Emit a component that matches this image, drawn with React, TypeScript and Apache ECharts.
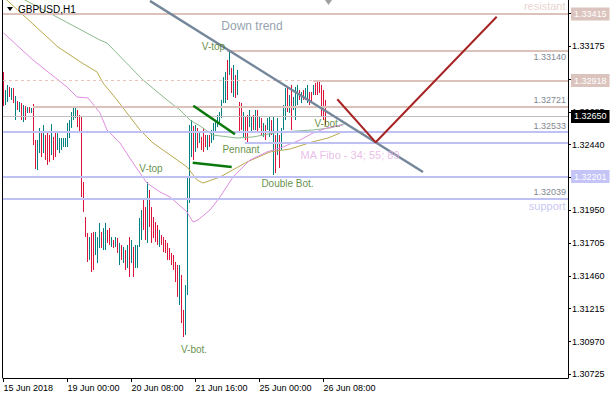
import React, { useEffect, useRef } from 'react';
import * as echarts from 'echarts';

// ---------- data ----------
const barHigh = [
  1.32982, 1.32847, 1.32885, 1.32870, 1.32862, 1.32862, 1.32803, 1.32765, 1.32758, 1.32750,
  1.32735, 1.32728, 1.32720, 1.32720, 1.32713, 1.32743, 1.32474, 1.32474, 1.32564, 1.32526,
  1.32586, 1.32511, 1.32526, 1.32511, 1.32593, 1.32497, 1.32534, 1.32526, 1.32489, 1.32489,
  1.32489, 1.32489, 1.32601, 1.32623, 1.32683, 1.32720, 1.32713, 1.32698, 1.32661, 1.32646,
  1.32161, 1.31899, 1.31780, 1.31750, 1.31780, 1.31788, 1.31788, 1.31750, 1.31855, 1.31788,
  1.31817, 1.31855, 1.31803, 1.31817, 1.31750, 1.31728, 1.31750, 1.31743, 1.31706, 1.31691,
  1.31676, 1.31653, 1.31691, 1.31750, 1.31728, 1.31676, 1.31691, 1.31691, 1.31892, 1.31952,
  1.32026, 1.31974, 1.32161, 1.32101, 1.31974, 1.31899, 1.31862, 1.31840, 1.31803, 1.31765,
  1.31750, 1.31728, 1.31706, 1.31668, 1.31631, 1.31616, 1.31564, 1.31541, 1.31541, 1.31467,
  1.31206, 1.31392, 1.32198, 1.32586, 1.32623, 1.32579, 1.32586, 1.32564, 1.32534, 1.32497,
  1.32564, 1.32511, 1.32511, 1.32511, 1.32549, 1.32601, 1.32608, 1.32661, 1.32683, 1.32773,
  1.32944, 1.32982, 1.33071, 1.33131, 1.33012, 1.33034, 1.32959, 1.32997, 1.32758, 1.32750,
  1.32683, 1.32646, 1.32661, 1.32698, 1.32646, 1.32661, 1.32698, 1.32698, 1.32646, 1.32638,
  1.32601, 1.32586, 1.32638, 1.32646, 1.32623, 1.32646, 1.32511, 1.32638, 1.32511, 1.32564,
  1.32735, 1.32862, 1.32870, 1.32810, 1.32885, 1.32795, 1.32870, 1.32885, 1.32847, 1.32832,
  1.32847, 1.32862, 1.32885, 1.32832, 1.32832, 1.32885, 1.32900, 1.32907, 1.32907, 1.32885,
  1.32847, 1.32773,
];
const barLow = [
  1.32728, 1.32735, 1.32758, 1.32795, 1.32773, 1.32750, 1.32623, 1.32698, 1.32683, 1.32623,
  1.32608, 1.32623, 1.32676, 1.32676, 1.32676, 1.32437, 1.32258, 1.32250, 1.32377, 1.32347,
  1.32377, 1.32325, 1.32288, 1.32310, 1.32362, 1.32325, 1.32347, 1.32400, 1.32377, 1.32400,
  1.32422, 1.32422, 1.32422, 1.32489, 1.32564, 1.32623, 1.32638, 1.32571, 1.32526, 1.32049,
  1.31937, 1.31750, 1.31564, 1.31579, 1.31489, 1.31504, 1.31616, 1.31556, 1.31668, 1.31668,
  1.31653, 1.31653, 1.31706, 1.31691, 1.31676, 1.31668, 1.31676, 1.31631, 1.31541, 1.31579,
  1.31556, 1.31504, 1.31519, 1.31452, 1.31556, 1.31452, 1.31519, 1.31519, 1.31676, 1.31728,
  1.31803, 1.31728, 1.31706, 1.31825, 1.31706, 1.31743, 1.31713, 1.31691, 1.31676, 1.31691,
  1.31638, 1.31631, 1.31579, 1.31579, 1.31541, 1.31504, 1.31414, 1.31303, 1.31243, 1.31108,
  1.31004, 1.31019, 1.31317, 1.32004, 1.32347, 1.32325, 1.32385, 1.32414, 1.32452, 1.32400,
  1.32385, 1.32422, 1.32400, 1.32422, 1.32452, 1.32474, 1.32534, 1.32571, 1.32601, 1.32638,
  1.32750, 1.32750, 1.32773, 1.32959, 1.32825, 1.32795, 1.32788, 1.32810, 1.32534, 1.32549,
  1.32497, 1.32474, 1.32459, 1.32571, 1.32526, 1.32549, 1.32549, 1.32534, 1.32564, 1.32511,
  1.32497, 1.32474, 1.32549, 1.32497, 1.32511, 1.32213, 1.32228, 1.32362, 1.32265, 1.32400,
  1.32549, 1.32623, 1.32683, 1.32676, 1.32549, 1.32698, 1.32623, 1.32735, 1.32773, 1.32750,
  1.32773, 1.32773, 1.32750, 1.32735, 1.32750, 1.32810, 1.32810, 1.32810, 1.32825, 1.32646,
  1.32623, 1.32586,
];
// 1 = bullish bar, 0 = bearish bar
const barUp = [
  0, 1, 1, 0, 1, 0, 1, 0, 1, 0,
  1, 0, 1, 0, 1, 0, 0, 1, 1, 0,
  1, 0, 0, 0, 1, 0, 0, 1, 1, 1,
  1, 1, 1, 1, 1, 1, 1, 0, 0, 0,
  0, 0, 0, 1, 0, 0, 1, 1, 1, 0,
  1, 1, 0, 0, 1, 0, 1, 0, 1, 0,
  1, 0, 1, 0, 1, 0, 1, 1, 1, 1,
  0, 0, 1, 0, 0, 0, 0, 0, 1, 0,
  0, 0, 0, 0, 0, 0, 0, 0, 1, 0,
  0, 1, 1, 1, 1, 0, 1, 0, 1, 0,
  0, 0, 1, 0, 1, 1, 1, 1, 1, 1,
  1, 1, 0, 1, 0, 1, 0, 1, 0, 0,
  1, 0, 0, 1, 1, 0, 1, 0, 1, 0,
  1, 0, 1, 1, 0, 1, 0, 1, 0, 1,
  1, 1, 0, 1, 0, 1, 1, 1, 0, 1,
  0, 1, 1, 0, 0, 1, 0, 0, 0, 0,
  0, 0,
];

// moving averages (bar index, price), drawn shifted as on the chart
const ma34 = [
  [0, 1.33273], [14.75, 1.33071], [31.75, 1.3287], [36.75, 1.32795], [42.25, 1.32788],
  [48.25, 1.32676], [51.75, 1.32549], [58.25, 1.32452], [64.75, 1.32303], [71.75, 1.32153],
  [78.25, 1.32086], [83.25, 1.32049], [91.75, 1.31937], [94.75, 1.31862], [97.25, 1.31877],
  [103.25, 1.31952], [108.25, 1.32049], [114.75, 1.32198], [123.25, 1.32325], [131.75, 1.32385],
  [139.75, 1.32422], [148.25, 1.32474], [154.75, 1.32526], [161.75, 1.32564], [169.75, 1.32586],
];
const ma55 = [
  [0, 1.33541], [3.25, 1.33497], [27.25, 1.33168], [39.25, 1.33049], [46.75, 1.32982],
  [49.75, 1.329], [56.75, 1.32773], [68.25, 1.32549], [74.75, 1.32452], [84.75, 1.32347],
  [91.75, 1.32273], [96.75, 1.32176], [99.75, 1.32153], [108.25, 1.32198], [121.75, 1.3231],
  [133.25, 1.32385], [143.25, 1.32407], [154.25, 1.32459], [162.25, 1.32489], [168.25, 1.32526],
];
const ma89 = [
  [0, 1.33616], [10.75, 1.33519], [48.25, 1.3322], [51.75, 1.33198], [69.75, 1.32922],
  [81.75, 1.32773], [88.25, 1.32698], [93.25, 1.32623], [98.25, 1.32579], [104.75, 1.32511],
  [116.75, 1.32489], [124.75, 1.32497], [138.25, 1.32534], [154.75, 1.32549], [163.25, 1.32564],
  [171.75, 1.32601],
];

const trendLine = [[73.25, 1.33512], [209.75, 1.32235]];
const projection = [[166.9, 1.32778], [186.1, 1.32457], [246.6, 1.33394]];
const pennantUpper = [[94.9, 1.3273], [115.75, 1.32517]];
const pennantLower = [[94.6, 1.32305], [114.1, 1.32273]];

// horizontal levels
const levelValues = [1.33415, 1.3314, 1.32918, 1.32918, 1.32721, 1.3265, 1.32533, 1.32454, 1.32201, 1.32039];
const levelFrom = [-0.25, 111.75, 154.75, -0.25, 14.75, -0.25, -0.25, 120.75, -0.25, -0.25];
const levelTo = [282.25, 282.25, 282.25, 154.75, 282.25, 282.25, 282.25, 282.25, 282.25, 282.25];

// price scale: tick positions, and the labels that are not hidden behind level boxes
const yTicks = [1.30725, 1.3097, 1.31215, 1.3146, 1.31705, 1.3195, 1.32195, 1.3244, 1.32685, 1.3293, 1.33175, 1.3342];
const yLabelTicks = [1.30725, 1.3097, 1.31215, 1.3146, 1.31705, 1.3195, 1.3244, 1.32685, 1.33175];
const xTickIdx = [0, 32, 64, 96, 128, 160];
const xTickLabels = ['15 Jun 2018', '19 Jun 00:00', '20 Jun 08:00', '21 Jun 16:00', '25 Jun 00:00', '26 Jun 08:00'];

const noteTexts = ['Down trend', 'V-top', 'Pennant', 'Double Bot.', 'V-bot.', 'V-top', 'V-bot.', 'MA Fibo - 34; 55; 89', 'resistant', 'support'];
const notePos = [
  [124.25, 1.33325], [105, 1.33172], [118.75, 1.32407], [142, 1.32146], [162, 1.32594],
  [73.75, 1.32258], [95.25, 1.30914], [173.25, 1.32362], [281, 1.33474], [281, 1.31982],
];

const X_MIN = -0.25;
const X_MAX = 282.25;
const Y_MIN = 1.30698;
const Y_MAX = 1.33519;

// ---------- styles ----------
const FONT = "'Liberation Sans', Arial, sans-serif";
const PINK = '#dcc2bb';
const LAV = '#bfc0f4';
const NOTE_GREEN = '#3c7414';
const UP_COLOR = '#008080';
const DOWN_COLOR = '#dc143c';

type LevelStyle = { color: string; width: number; type?: any; label?: any };
const boxLabel = (bg: string) => ({
  show: true,
  position: 'end',
  distance: 3,
  color: '#fff',
  backgroundColor: bg,
  padding: [2, 3, 1, 3],
  fontSize: 9,
  lineHeight: 10,
  fontFamily: FONT,
});
const innerLabel = (pos: string) => ({
  show: true,
  position: pos,
  distance: 2,
  color: '#7f8893',
  fontSize: 9,
  fontFamily: FONT,
});
const levelStyles: LevelStyle[] = [
  { color: PINK, width: 2, label: boxLabel('#dcc4be') },
  { color: PINK, width: 2, label: innerLabel('insideEndBottom') },
  { color: PINK, width: 2, label: boxLabel('#dcc4be') },
  { color: '#e6c4bc', width: 1, type: [3, 3] },
  { color: PINK, width: 2, label: innerLabel('insideEndTop') },
  { color: '#c0c0c0', width: 1, label: boxLabel('#000') },
  { color: LAV, width: 2, label: innerLabel('insideEndTop') },
  { color: LAV, width: 2 },
  { color: LAV, width: 2, label: boxLabel('#c4c4f6') },
  { color: LAV, width: 2, label: innerLabel('insideEndTop') },
];
const noteStyles: any[] = [
  { color: '#778899', fontSize: 12 },
  { color: NOTE_GREEN, fontSize: 10 },
  { color: NOTE_GREEN, fontSize: 10 },
  { color: NOTE_GREEN, fontSize: 10 },
  { color: NOTE_GREEN, fontSize: 10 },
  { color: NOTE_GREEN, fontSize: 10 },
  { color: NOTE_GREEN, fontSize: 10 },
  { color: '#e4aee4', fontSize: 11 },
  { color: '#e2c8c2', fontSize: 11, align: 'right' },
  { color: '#b8b8f2', fontSize: 11, align: 'right' },
];

export default function App() {
  const ref = useRef<HTMLDivElement>(null);

  useEffect(() => {
    if (!ref.current) return;
    const chart = echarts.init(ref.current, undefined, { renderer: 'svg' });

    // each price bar is a vertical high-low segment; a gap point separates bars
    const upSegs: any[] = [];
    const downSegs: any[] = [];
    barHigh.forEach((h, i) => {
      const target = barUp[i] === 1 ? upSegs : downSegs;
      target.push([i, barLow[i]], [i, h], [i, '-']);
    });

    const markLineData = levelValues.map((v, k) => {
      const st = levelStyles[k];
      return [
        {
          coord: [levelFrom[k], v],
          lineStyle: { color: st.color, width: st.width, type: st.type || 'solid' },
          label: st.label
            ? { ...st.label, formatter: () => v.toFixed(5) }
            : { show: false },
        },
        { coord: [levelTo[k], v] },
      ];
    });

    const lineSeries = (data: any[], color: string, width: number, z: number) => ({
      type: 'line',
      data,
      showSymbol: false,
      symbol: 'none',
      silent: true,
      connectNulls: false,
      z,
      lineStyle: { color, width },
      clip: true,
    });

    const option: any = {
      animation: false,
      backgroundColor: '#ffffff',
      textStyle: { fontFamily: FONT },
      grid: { left: 3, right: 42, top: 0, bottom: 22, containLabel: false, outerBoundsMode: 'none' },
      xAxis: {
        type: 'value',
        min: X_MIN,
        max: X_MAX,
        splitLine: { show: false },
        axisLine: { show: true, onZero: false, lineStyle: { color: '#000', width: 1 } },
        axisTick: { show: true, length: 4, customValues: xTickIdx, lineStyle: { color: '#000' } },
        axisLabel: {
          customValues: xTickIdx,
          formatter: (v: number) => {
            const k = xTickIdx.indexOf(Math.round(v));
            return k >= 0 ? xTickLabels[k] : '';
          },
          align: 'left',
          margin: 5,
          color: '#000',
          fontSize: 9,
          fontFamily: FONT,
        },
      },
      yAxis: {
        type: 'value',
        position: 'right',
        min: Y_MIN,
        max: Y_MAX,
        scale: true,
        splitLine: { show: false },
        axisLine: { show: true, onZero: false, lineStyle: { color: '#000', width: 1 } },
        axisTick: { show: true, length: 3, customValues: yTicks, lineStyle: { color: '#000' } },
        axisLabel: {
          customValues: yLabelTicks,
          formatter: (v: number) => v.toFixed(5),
          margin: 4,
          color: '#000',
          fontSize: 9,
          fontFamily: FONT,
        },
      },
      series: [
        {
          type: 'line',
          data: [],
          silent: true,
          z: 2,
          markLine: {
            silent: true,
            symbol: ['none', 'none'],
            animation: false,
            data: markLineData,
          },
        },
        lineSeries(upSegs, UP_COLOR, 1, 3),
        lineSeries(downSegs, DOWN_COLOR, 1, 3),
        lineSeries(ma89, '#8dba8d', 1, 4),
        lineSeries(ma55, '#b9a94e', 1, 4),
        lineSeries(ma34, '#e08ee0', 1, 4),
        lineSeries(trendLine, '#74879a', 2.5, 6),
        lineSeries(projection, '#a82424', 2, 6),
        lineSeries(pennantUpper, '#0a780a', 2.5, 6),
        lineSeries(pennantLower, '#0a780a', 2.5, 6),
        {
          type: 'scatter',
          symbolSize: 0,
          silent: true,
          z: 8,
          data: noteTexts.map((t, k) => ({
            value: notePos[k],
            label: {
              show: true,
              position: [0, 0],
              formatter: t,
              color: noteStyles[k].color,
              fontSize: noteStyles[k].fontSize,
              align: noteStyles[k].align || 'center',
              verticalAlign: 'middle',
              fontFamily: FONT,
            },
          })),
        },
      ],
      graphic: [
        { type: 'line', z: 100, shape: { x1: 2.5, y1: 0, x2: 2.5, y2: 378 }, style: { stroke: '#000', lineWidth: 1 } },
        { type: 'polygon', z: 100, shape: { points: [[7, 7], [13, 7], [10, 11]] }, style: { fill: '#000' } },
        {
          type: 'text', z: 100, x: 18, y: 4,
          style: { text: 'GBPUSD,H1', fill: '#000', fontSize: 10, fontFamily: FONT },
        },
        { type: 'polygon', z: 100, shape: { points: [[325, 0], [332, 0], [328.5, 5]] }, style: { fill: '#a0a0a0' } },
      ],
    };

    chart.setOption(option);
    return () => chart.dispose();
  }, []);

  return (
    <div
      ref={ref}
      style={{ position: 'absolute', left: 0, top: 0, width: 610, height: 400, background: '#fff' }}
    />
  );
}
